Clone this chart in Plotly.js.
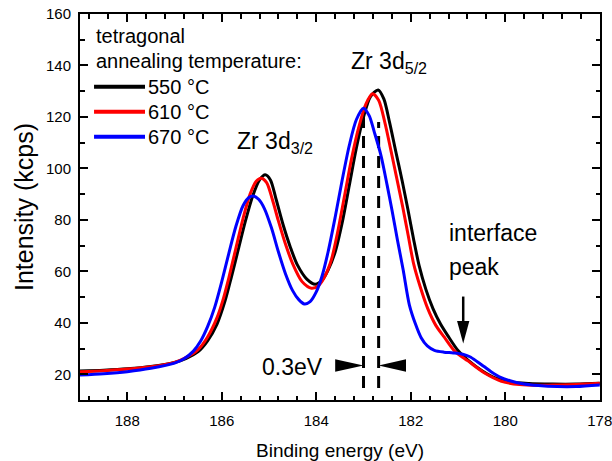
<!DOCTYPE html>
<html>
<head>
<meta charset="utf-8">
<script src="https://cdn.plot.ly/plotly-3.0.1.min.js"></script>
<style>html,body{margin:0;padding:0;background:#fff;}#chart{width:612px;height:461px;}</style>
</head>
<body>
<div id="chart"></div>
<script>
// ---- data ----
const seriesNames = ["550 °C", "610 °C", "670 °C"];
const seriesColors = ["#000000", "#ff0000", "#0000ff"];

const x550 = [189.0, 188.5, 188.0, 187.5, 187.0, 186.75, 186.5, 186.3, 186.1, 185.93, 185.8, 185.65, 185.5, 185.35, 185.2, 185.08, 184.97, 184.85, 184.7, 184.55, 184.4, 184.2, 184.02, 183.88, 183.75, 183.6, 183.45, 183.3, 183.15, 183.0, 182.85, 182.69, 182.57, 182.45, 182.31, 182.18, 182.06, 181.94, 181.82, 181.68, 181.53, 181.37, 181.21, 181.0, 180.79, 180.5, 180.2, 179.9, 179.5, 179.0, 178.5, 178.0];
const y550 = [21.3, 21.6, 22.1, 23.0, 24.6, 26.2, 28.8, 33.0, 39.5, 48.5, 57.5, 68.5, 79.5, 89.0, 95.5, 97.5, 95.5, 88.0, 78.0, 69.5, 62.5, 57.0, 55.0, 56.5, 60.5, 67.5, 79.0, 93.5, 108, 120, 128, 130.5, 127, 118, 106, 95, 84, 72.5, 62, 53, 45.5, 39.5, 34.8, 29.2, 25.5, 21.5, 18.5, 17.0, 16.4, 16.2, 16.2, 16.5];

const x610 = [189.0, 188.5, 188.0, 187.5, 187.0, 186.75, 186.5, 186.3, 186.1, 185.98, 185.85, 185.7, 185.55, 185.4, 185.27, 185.17, 185.05, 184.93, 184.8, 184.65, 184.5, 184.3, 184.1, 183.95, 183.82, 183.68, 183.55, 183.4, 183.25, 183.1, 182.95, 182.81, 182.68, 182.55, 182.42, 182.3, 182.17, 182.05, 181.94, 181.8, 181.64, 181.47, 181.29, 181.07, 180.79, 180.43, 180.08, 179.7, 179.3, 179.0, 178.5, 178.0];
const y610 = [21.0, 21.4, 22.0, 22.9, 24.6, 26.6, 29.6, 34.5, 42.0, 48.5, 57.5, 69.0, 80.5, 90.0, 95.0, 96.2, 94.5, 88.0, 79.5, 70.5, 63.0, 56.0, 53.4, 54.5, 58.0, 64.5, 75.0, 89.5, 104, 116, 125, 129, 126.5, 118, 107, 96.5, 85, 73.5, 63, 54, 45.5, 39, 34.4, 29.0, 25.2, 20.4, 17.3, 16.0, 15.7, 15.8, 16.0, 16.5];

const x670 = [189.0, 188.5, 188.0, 187.5, 187.0, 186.8, 186.6, 186.45, 186.3, 186.15, 186.0, 185.85, 185.7, 185.55, 185.42, 185.33, 185.22, 185.1, 184.95, 184.8, 184.65, 184.5, 184.37, 184.25, 184.13, 184.0, 183.88, 183.75, 183.6, 183.45, 183.3, 183.15, 183.0, 182.88, 182.77, 182.63, 182.5, 182.4, 182.28, 182.16, 182.03, 181.9, 181.78, 181.65, 181.5, 181.3, 181.1, 180.9, 180.75, 180.6, 180.45, 180.3, 180.1, 179.9, 179.6, 179.3, 178.9, 178.5, 178.0];
const y670 = [19.7, 20.2, 21.0, 22.3, 24.3, 26.0, 29.0, 32.8, 38.5, 46.0, 56.0, 67.0, 77.5, 85.5, 88.8, 89.3, 88.0, 84.5, 77.0, 67.5, 59.0, 52.5, 49.0, 47.3, 48.2, 52.0, 58.0, 67.5, 81.0, 95.6, 109, 119, 123.4, 120.5, 114, 105, 93.5, 84, 72, 60.5, 47, 39.5, 34.2, 31.0, 29.3, 28.6, 28.3, 27.8, 26.8, 25.0, 23.0, 21.0, 18.8, 17.5, 16.2, 15.6, 15.2, 15.2, 15.8];

const xTickVals = [188, 186, 184, 182, 180, 178];
const yTickVals = [20, 40, 60, 80, 100, 120, 140, 160];
const xRange = [189, 177.995];
const yRange = [10, 160];

// peak-shift marker lines (eV) and interface peak position
const shiftLines = [183.0, 182.68];
const shiftLineTop = [121.5, 118];
const interfacePeakX = 180.89;

// ---- plot ----
const FONT = "Liberation Sans, Arial, sans-serif";
const xs = [x550, x610, x670];
const ys = [y550, y610, y670];
const traces = xs.map((x, i) => ({
  x: x, y: ys[i], type: "scatter", mode: "lines", name: seriesNames[i],
  line: {color: seriesColors[i], width: 3, shape: "spline", smoothing: 0.8},
  showlegend: false, hoverinfo: "skip"
}));

const shapes = [];
const annotations = [];

// dashed marker lines
shiftLines.forEach((xv, i) => {
  shapes.push({type: "line", xref: "x", yref: "y", x0: xv, x1: xv, y0: 14.7, y1: shiftLineTop[i],
    line: {color: "#000", width: 3, dash: "12px,8px"}, layer: "below"});
});
// 0.3 eV arrows (triangles)
shapes.push({type: "path", xref: "x", yref: "y", path: `M 183.6,21.0 L ${shiftLines[0]},23.4 L 183.6,25.8 Z`,
  fillcolor: "#000", line: {color: "#000", width: 0}});
shapes.push({type: "path", xref: "x", yref: "y", path: `M 182.1,21.0 L ${shiftLines[1]},23.4 L 182.1,25.8 Z`,
  fillcolor: "#000", line: {color: "#000", width: 0}});
// interface peak arrow
shapes.push({type: "line", xref: "x", yref: "y", x0: interfacePeakX, x1: interfacePeakX, y0: 50.2, y1: 40.0,
  line: {color: "#000", width: 2.5}});
shapes.push({type: "path", xref: "x", yref: "y",
  path: `M ${interfacePeakX + 0.13},40.7 L ${interfacePeakX},32.0 L ${interfacePeakX - 0.13},40.7 Z`,
  fillcolor: "#000", line: {color: "#000", width: 0}});

// legend (drawn manually)
const legY = [0.8117, 0.7469, 0.6821];
seriesNames.forEach((n, i) => {
  shapes.push({type: "line", xref: "paper", yref: "paper", x0: 0.027, x1: 0.125, y0: legY[i], y1: legY[i],
    line: {color: seriesColors[i], width: 4}});
  annotations.push({xref: "paper", yref: "paper", x: 0.127, y: legY[i], xanchor: "left", yanchor: "middle",
    text: n, showarrow: false, font: {family: FONT, size: 20, color: "#000"}});
});
annotations.push({xref: "paper", yref: "paper", x: 0.026, y: 0.944, xanchor: "left", yanchor: "middle",
  text: "tetragonal", showarrow: false, font: {family: FONT, size: 20, color: "#000"}});
annotations.push({xref: "paper", yref: "paper", x: 0.026, y: 0.878, xanchor: "left", yanchor: "middle",
  text: "annealing temperature:", showarrow: false, font: {family: FONT, size: 20, color: "#000"}});

// peak labels
const labFont = {family: FONT, size: 23, color: "#000"};
annotations.push({x: 185.72, y: 110, xref: "x", yref: "y", xanchor: "left", yanchor: "middle",
  text: "Zr 3d<sub>3/2</sub>", showarrow: false, font: labFont});
annotations.push({x: 183.3, y: 141.3, xref: "x", yref: "y", xanchor: "left", yanchor: "middle",
  text: "Zr 3d<sub>5/2</sub>", showarrow: false, font: labFont});
annotations.push({x: 185.2, y: 23.0, xref: "x", yref: "y", xanchor: "left", yanchor: "middle",
  text: "0.3eV", showarrow: false, font: labFont});
annotations.push({x: 181.24, y: 74.9, xref: "x", yref: "y", xanchor: "left", yanchor: "middle",
  text: "interface", showarrow: false, font: labFont});
annotations.push({x: 181.24, y: 61.8, xref: "x", yref: "y", xanchor: "left", yanchor: "middle",
  text: "peak", showarrow: false, font: labFont});

const axisCommon = {
  showline: true, linewidth: 2, linecolor: "#000", mirror: "ticks",
  ticks: "inside", ticklen: 8, tickwidth: 2, tickcolor: "#000",
  showgrid: false, zeroline: false, tickfont: {family: FONT, size: 15, color: "#000"},
  tickmode: "array", fixedrange: true, ticklabeloverflow: "allow"
};

const layout = {
  width: 612, height: 461,
  margin: {l: 80, r: 12, t: 14, b: 61},
  paper_bgcolor: "#fff", plot_bgcolor: "#fff",
  font: {family: FONT, color: "#000"},
  xaxis: Object.assign({}, axisCommon, {
    range: xRange, tickvals: xTickVals, ticktext: xTickVals.map(String),
    minor: {tickmode: "linear", tick0: 178, dtick: 0.4, ticks: "inside", ticklen: 4.5, tickwidth: 2, tickcolor: "#000"},
    ticklabelstandoff: 6,
    title: {text: "Binding energy (eV)", font: {family: FONT, size: 19, color: "#000"}, standoff: 16}
  }),
  yaxis: Object.assign({}, axisCommon, {
    range: yRange, tickvals: yTickVals, ticktext: yTickVals.map(String),
    minor: {tickmode: "linear", tick0: 10, dtick: 10, ticks: "inside", ticklen: 4.5, tickwidth: 2, tickcolor: "#000"},
    ticklabelstandoff: 4,
    title: {text: "Intensity (kcps)", font: {family: FONT, size: 25, color: "#000"}, standoff: 5}
  }),
  shapes: shapes,
  annotations: annotations
};

Plotly.newPlot("chart", traces, layout, {displayModeBar: false, staticPlot: true});
</script>
</body>
</html>
